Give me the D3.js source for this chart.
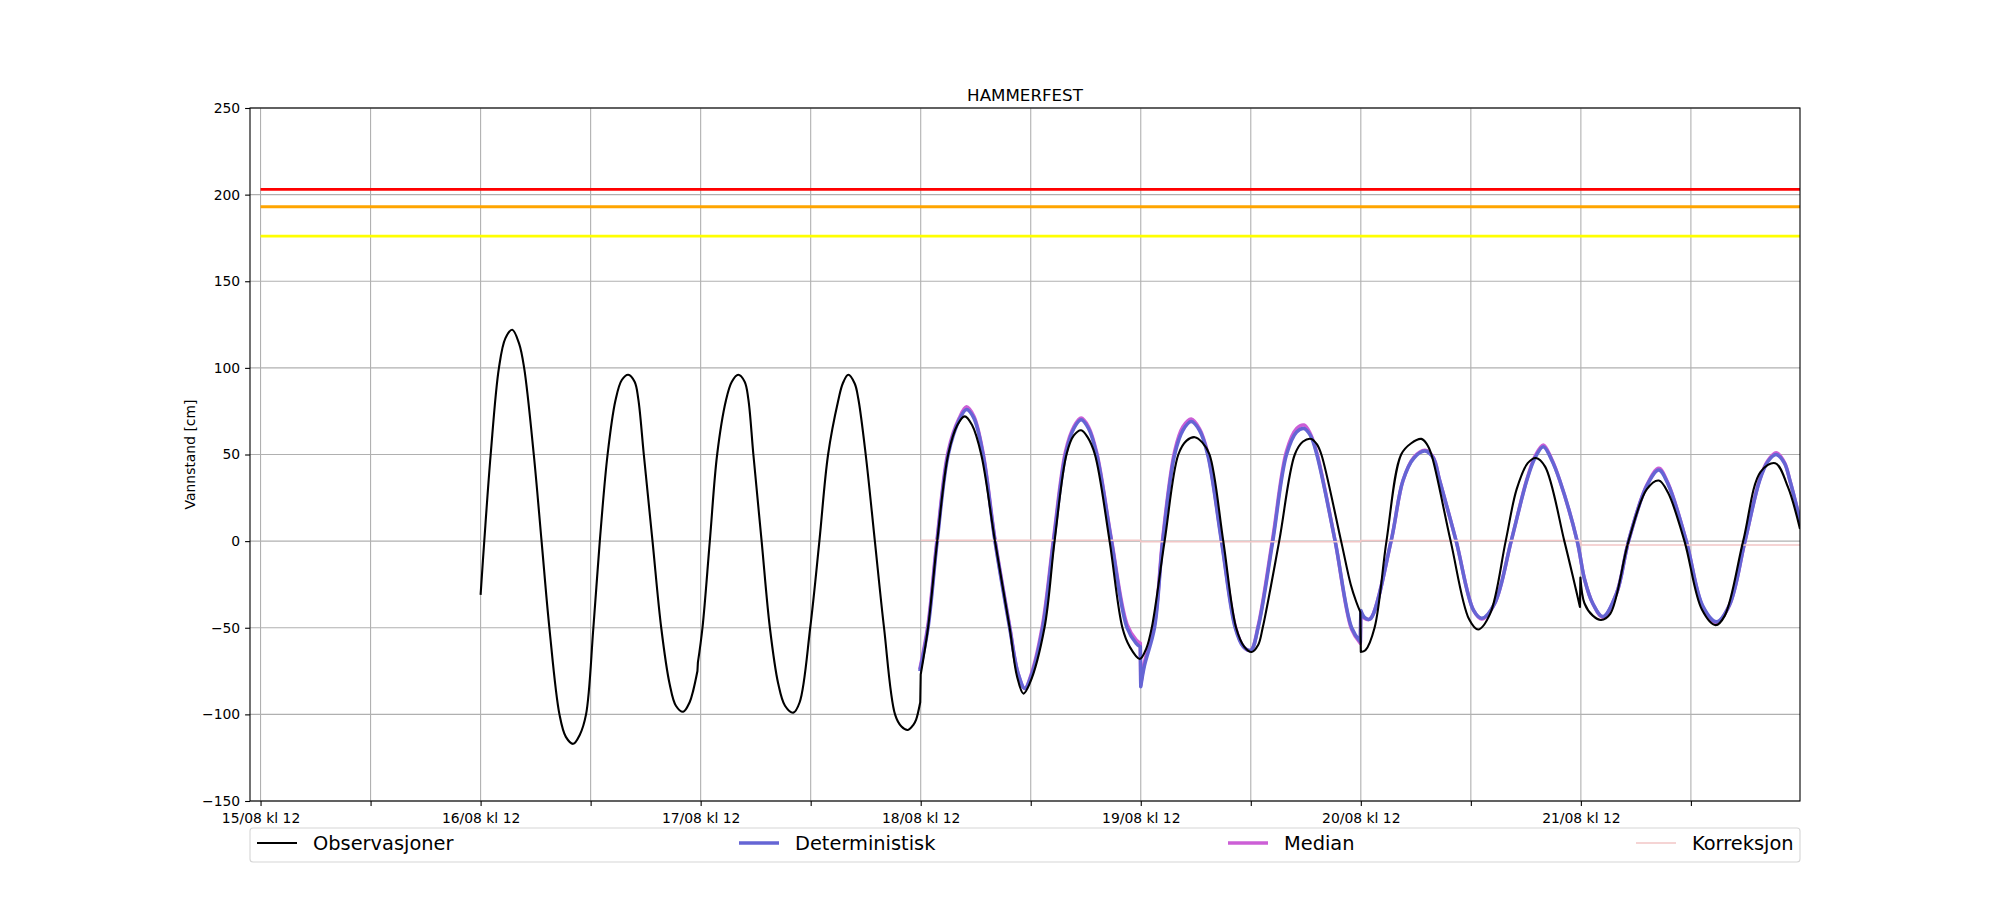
<!DOCTYPE html>
<html>
<head>
<meta charset="utf-8">
<script src="https://cdn.jsdelivr.net/npm/d3@7"></script>
<style>
html, body { margin: 0; padding: 0; background: #fff; overflow: hidden; }
svg { display: block; }
text { font-family: "DejaVu Sans", sans-serif; fill: #000; }
</style>
</head>
<body>
<div class="plot"></div>
<script>
// all points are [hours after 16/08 kl 12, vannstand in cm]
const obsPoints = [
    [0,-31],[0.4,0],[1.1,50],[2.0,100],[2.7,117],[3.45,122],[4.2,114],[4.75,100],[5.8,50],[6.65,0],
    [7.5,-50],[8.6,-100],[9.3,-113],[10.1,-117],[10.8,-112],[11.5,-100],[12.3,-50],[13.0,0],[13.85,50],
    [14.7,81],[15.4,93],[16.1,96],[16.8,92],[17.2,82],[17.8,50],[18.75,0],[19.7,-50],[20.6,-82],
    [21.3,-95],[22.1,-98.5],[22.8,-93],[23.2,-86],[23.65,-75],[23.7,-70],[24.2,-50],[25.0,0],[25.8,50],
    [26.75,81],[27.4,92],[28.1,96],[28.8,92],[29.2,82],[29.75,50],[30.65,0],[31.55,-50],[32.45,-82],
    [33.2,-95],[34.1,-99],[34.8,-93],[35.95,-50],[36.95,0],[37.9,50],[39.0,81],[39.5,91],[40.1,96],
    [40.8,91],[41.2,82],[42.0,50],[43.0,0],[44.0,-50],[45.2,-100],[45.9,-107],[46.6,-109],[47.2,-106],
    [47.5,-103],[47.95,-93],[48.0,-77],[48.8,-50],[49.8,0],[51.0,50],[52.0,67],[52.8,72],[53.6,67],
    [54.6,50],[56.1,0],[57.7,-50],[58.5,-78],[59.2,-88],[59.9,-82],[61.5,-50],[62.6,0],[63.9,50],
    [64.7,61],[65.5,64],[66.2,60],[67.0,50],[68.6,0],[70.0,-50],[70.8,-61],[71.9,-68],[72.6,-62],
    [73.2,-50],[74.6,0],[76.1,50],[77.0,58],[77.9,60],[78.7,57],[79.5,50],[81.0,0],[82.4,-50],
    [83.3,-61],[84.1,-64],[84.8,-60],[85.3,-50],[87.1,0],[88.8,50],[89.7,57.5],[90.6,59],[91.2,56],
    [91.7,50],[93.85,0],[94.9,-25],[95.5,-35],[95.95,-41],[96.0,-64],[96.5,-63],[97.5,-50],[98.8,0],
    [100.4,50],[101.5,56.5],[102.6,59],[103.2,56],[103.7,50],[105.8,0],[107.8,-45],[108.8,-51],
    [110.1,-42],[111.8,0],[113.0,30],[114.2,45],[115.1,48],[116.1,43],[118.2,0],[119.2,-22],
    [119.9,-38],[119.95,-21],[120.4,-36],[121.3,-43],[122.2,-45.5],[123.2,-42],[125.2,0],[127.2,30],
    [128.5,35],[129.5,28],[131.3,0],[133.2,-39.5],[134.7,-48.5],[135.7,-43],[137.7,0],[139.6,40],
    [141.2,45],[142.6,31],[143.9,7]
];

const detPoints = [
    [47.9,-75],[48.8,-50],[49.8,0],[51.0,50],[52.2,70],[53.0,76],[53.8,71],[54.8,50],[56.1,0],
    [57.7,-50],[58.6,-76],[59.35,-85],[60.1,-77],[61.3,-50],[62.5,0],[63.8,50],[64.7,65],[65.5,70],
    [66.3,65],[67.2,50],[68.8,0],[70.5,-50],[71.5,-59],[71.95,-61],[72.0,-84],[72.4,-72],[73.5,-50],
    [74.4,0],[75.7,50],[76.6,64],[77.5,69],[78.4,64],[79.3,50],[80.8,0],[82.3,-50],[83.2,-61],
    [84.0,-63],[84.8,-50],[86.4,0],[87.9,50],[89.0,63],[89.8,65],[90.5,61],[91.2,50],[93.2,0],
    [95.0,-50],[95.95,-58],[96.0,-40],[96.4,-44],[97.0,-45],[99.3,0],[100.6,35],[101.8,48],[103.0,52],
    [103.9,48],[104.6,35],[106.4,0],[108.3,-40],[109.2,-44.5],[110.6,-36],[112.4,0],[114.1,35],
    [115.0,48],[115.9,54.5],[116.8,47],[117.7,35],[119.6,0],[120.4,-22],[121.3,-36],[122.4,-43.5],
    [123.9,-30],[125.2,0],[127.2,32],[128.5,41],[129.5,33],[131.5,0],[133.3,-37.5],[134.8,-46.5],
    [136.2,-37],[137.9,0],[139.5,35],[140.4,46],[141.3,50],[142.2,45],[142.8,35],[144.0,10]
];

const medianPoints = [
    [47.9,-74],[48.8,-48],[49.8,2],[51.0,52],[52.2,71],[53.0,77.5],[53.8,72],[54.8,51],[56.1,1],
    [57.7,-49],[58.6,-76],[59.35,-85],[60.1,-76],[61.3,-48],[62.5,2],[63.8,52],[64.7,66],[65.5,71],
    [66.3,66],[67.2,51],[68.8,1],[70.5,-48],[71.5,-57],[71.95,-59],[72.0,-83],[72.4,-70],[73.5,-48],
    [74.4,2],[75.7,52],[76.6,66],[77.5,70.5],[78.4,65],[79.3,51],[80.8,1],[82.3,-49],[83.2,-61],
    [84.0,-63],[84.8,-49],[86.4,2],[87.9,52],[89.0,65],[89.8,67],[90.5,62],[91.2,51],[93.2,0],
    [95.0,-51],[95.95,-59],[96.0,-41],[96.4,-44.5],[97.0,-45],[99.3,0],[100.6,35],[101.8,48.5],[103.0,52.5],
    [103.9,48.5],[104.6,35],[106.4,0],[108.3,-40],[109.2,-45],[110.6,-36],[112.4,0],[114.1,35.5],
    [115.0,49],[115.9,55.5],[116.8,47.5],[117.7,35],[119.6,0],[120.4,-22],[121.3,-36],[122.4,-44],
    [123.9,-30],[125.2,0],[127.2,32.5],[128.5,42],[129.5,33.5],[131.5,0],[133.3,-38],[134.8,-47],
    [136.2,-37],[137.9,0],[139.5,35.5],[140.4,46.5],[141.3,51],[142.2,45.5],[142.8,35],[144.0,10]
];

const corrPoints = [
    [48,0.5],[71.99,0.5],[72,-0.3],[95.99,-0.3],[96,0.3],[119.99,0.3],[120,-2.3],[144,-2.3]
];

// farevarsel levels, cm
const warnLevels = [203, 193, 176];

const yTicks = [-150, -100, -50, 0, 50, 100, 150, 200, 250];
const majorHours = [-24, 0, 24, 48, 72, 96, 120];      // dd/08 kl 12
const minorHours = [-12, 12, 36, 60, 84, 108, 132];    // kl 00

const legendNames = ["Observasjoner", "Deterministisk", "Median", "Korreksjon"];

const base = new Date(2023, 7, 16, 12);
const at = h => new Date(base.getTime() + h * 3600e3);

const width = 2000,
    height = 900,
    margin = {top: 108, right: 200, bottom: 99, left: 250},
    innerWidth = width - margin.left - margin.right,
    innerHeight = height - margin.top - margin.bottom;

const svg = d3.select(".plot").append("svg")
    .attr("viewBox", "0 0 " + width + " " + height)
    .style("width", "100vw")
    .style("height", "100vh");

const g = svg.append("g")
    .attr("transform", "translate(" + margin.left + "," + margin.top + ")");

const xScale = d3.scaleTime()
    .domain([at(-25.15), at(143.9)])
    .range([0, innerWidth]);
const yScale = d3.scaleLinear()
    .domain([-150, 250])
    .range([innerHeight, 0]);

svg.append("defs").append("clipPath").attr("id", "clip")
    .append("rect").attr("width", innerWidth).attr("height", innerHeight);

// grid, every 12 hours and every 50 cm
const gridColor = "#b0b0b0";
g.append("g").selectAll("line").data(majorHours.concat(minorHours)).enter()
    .append("line")
    .attr("x1", d => xScale(at(d))).attr("x2", d => xScale(at(d)))
    .attr("y1", 0).attr("y2", innerHeight)
    .attr("stroke", gridColor).attr("stroke-width", 1.1);
g.append("g").selectAll("line").data(yTicks).enter()
    .append("line")
    .attr("x1", 0).attr("x2", innerWidth)
    .attr("y1", d => yScale(d)).attr("y2", d => yScale(d))
    .attr("stroke", gridColor).attr("stroke-width", 1.1);

const plot = g.append("g").attr("clip-path", "url(#clip)");

// warning levels
const warnColors = ["#ff0000", "#ffa500", "#ffff00"];
plot.selectAll(".warn").data(warnLevels).enter()
    .append("line")
    .attr("class", "warn")
    .attr("x1", xScale(at(-24))).attr("x2", xScale(at(150)))
    .attr("y1", d => yScale(d)).attr("y2", d => yScale(d))
    .attr("stroke", (d, i) => warnColors[i])
    .attr("stroke-width", 2.8);

const smooth = d3.line()
    .x(d => xScale(at(d[0])))
    .y(d => yScale(d[1]))
    .curve(d3.curveCatmullRom.alpha(0.5));
const straight = d3.line()
    .x(d => xScale(at(d[0])))
    .y(d => yScale(d[1]));

// smooth each piece between the forecast jumps, join the jumps with straight lines
function tidePath(points) {
    const pieces = [[points[0]]];
    for (let i = 1; i < points.length; i++) {
        if (points[i][0] - points[i - 1][0] < 0.1) pieces.push([]);
        pieces[pieces.length - 1].push(points[i]);
    }
    return pieces.map((p, i) => {
        const s = p.length > 1 ? smooth(p) : straight(p);
        return i === 0 ? s : "L" + s.slice(1);
    }).join("");
}

const colObs = "#000000", colDet = "#6565d4", colMed = "#cc5fd6", colCorr = "#f2c6c6";

plot.append("path").attr("d", tidePath(medianPoints))
    .attr("fill", "none").attr("stroke", colMed).attr("stroke-width", 3.5)
    .attr("stroke-linejoin", "round");
plot.append("path").attr("d", tidePath(detPoints))
    .attr("fill", "none").attr("stroke", colDet).attr("stroke-width", 3.5)
    .attr("stroke-linejoin", "round");
plot.append("path").attr("d", straight(corrPoints))
    .attr("fill", "none").attr("stroke", colCorr).attr("stroke-width", 1.5);
plot.append("path").attr("d", tidePath(obsPoints))
    .attr("fill", "none").attr("stroke", colObs).attr("stroke-width", 2.1)
    .attr("stroke-linejoin", "round");

// axes
const fmt = d3.timeFormat("%d/%m kl %H");
const xAxis = d3.axisBottom(xScale)
    .tickValues(majorHours.map(at))
    .tickFormat(fmt)
    .tickSize(4.9).tickPadding(7);
const xMinor = d3.axisBottom(xScale)
    .tickValues(minorHours.map(at))
    .tickFormat("")
    .tickSize(4.9);
const yAxis = d3.axisLeft(yScale)
    .tickValues(yTicks)
    .tickSize(4.9).tickPadding(4.9);

const gx = g.append("g")
    .attr("transform", "translate(0," + innerHeight + ")")
    .call(xAxis);
const gxm = g.append("g")
    .attr("transform", "translate(0," + innerHeight + ")")
    .call(xMinor);
gxm.selectAll("text").remove();
const gy = g.append("g").call(yAxis);

[gx, gxm, gy].forEach(a => {
    a.select(".domain").remove();
    a.selectAll("line").attr("stroke", "#000").attr("stroke-width", 1.1);
    a.selectAll("text").attr("font-family", "DejaVu Sans").attr("font-size", "13.9px").attr("fill", "#000");
});

// frame
g.append("rect")
    .attr("width", innerWidth).attr("height", innerHeight)
    .attr("fill", "none").attr("stroke", "#000").attr("stroke-width", 1.1);

// title and y label
g.append("text")
    .attr("x", innerWidth / 2).attr("y", -7)
    .attr("text-anchor", "middle")
    .attr("font-size", "16.7px")
    .text("HAMMERFEST");

svg.append("text")
    .attr("transform", "translate(195," + (margin.top + innerHeight / 2) + ") rotate(-90)")
    .attr("text-anchor", "middle")
    .attr("font-size", "13.9px")
    .text("Vannstand [cm]");

// legend below the plot, spread over the full width
const legend = svg.append("g");
legend.append("rect")
    .attr("x", margin.left).attr("y", 828)
    .attr("width", innerWidth).attr("height", 34)
    .attr("rx", 3)
    .attr("fill", "#fff").attr("stroke", "#d6d6d6").attr("stroke-width", 1.1);

const legendX = [257, 739, 1228, 1636];
const legendStyle = [[colObs, 2.1], [colDet, 3.5], [colMed, 3.5], [colCorr, 1.5]];
legendNames.forEach((name, i) => {
    legend.append("line")
        .attr("x1", legendX[i]).attr("x2", legendX[i] + 40)
        .attr("y1", 843).attr("y2", 843)
        .attr("stroke", legendStyle[i][0]).attr("stroke-width", legendStyle[i][1]);
    legend.append("text")
        .attr("x", legendX[i] + 56).attr("y", 850)
        .attr("font-size", "19.4px")
        .text(name);
});
</script>
</body>
</html>
